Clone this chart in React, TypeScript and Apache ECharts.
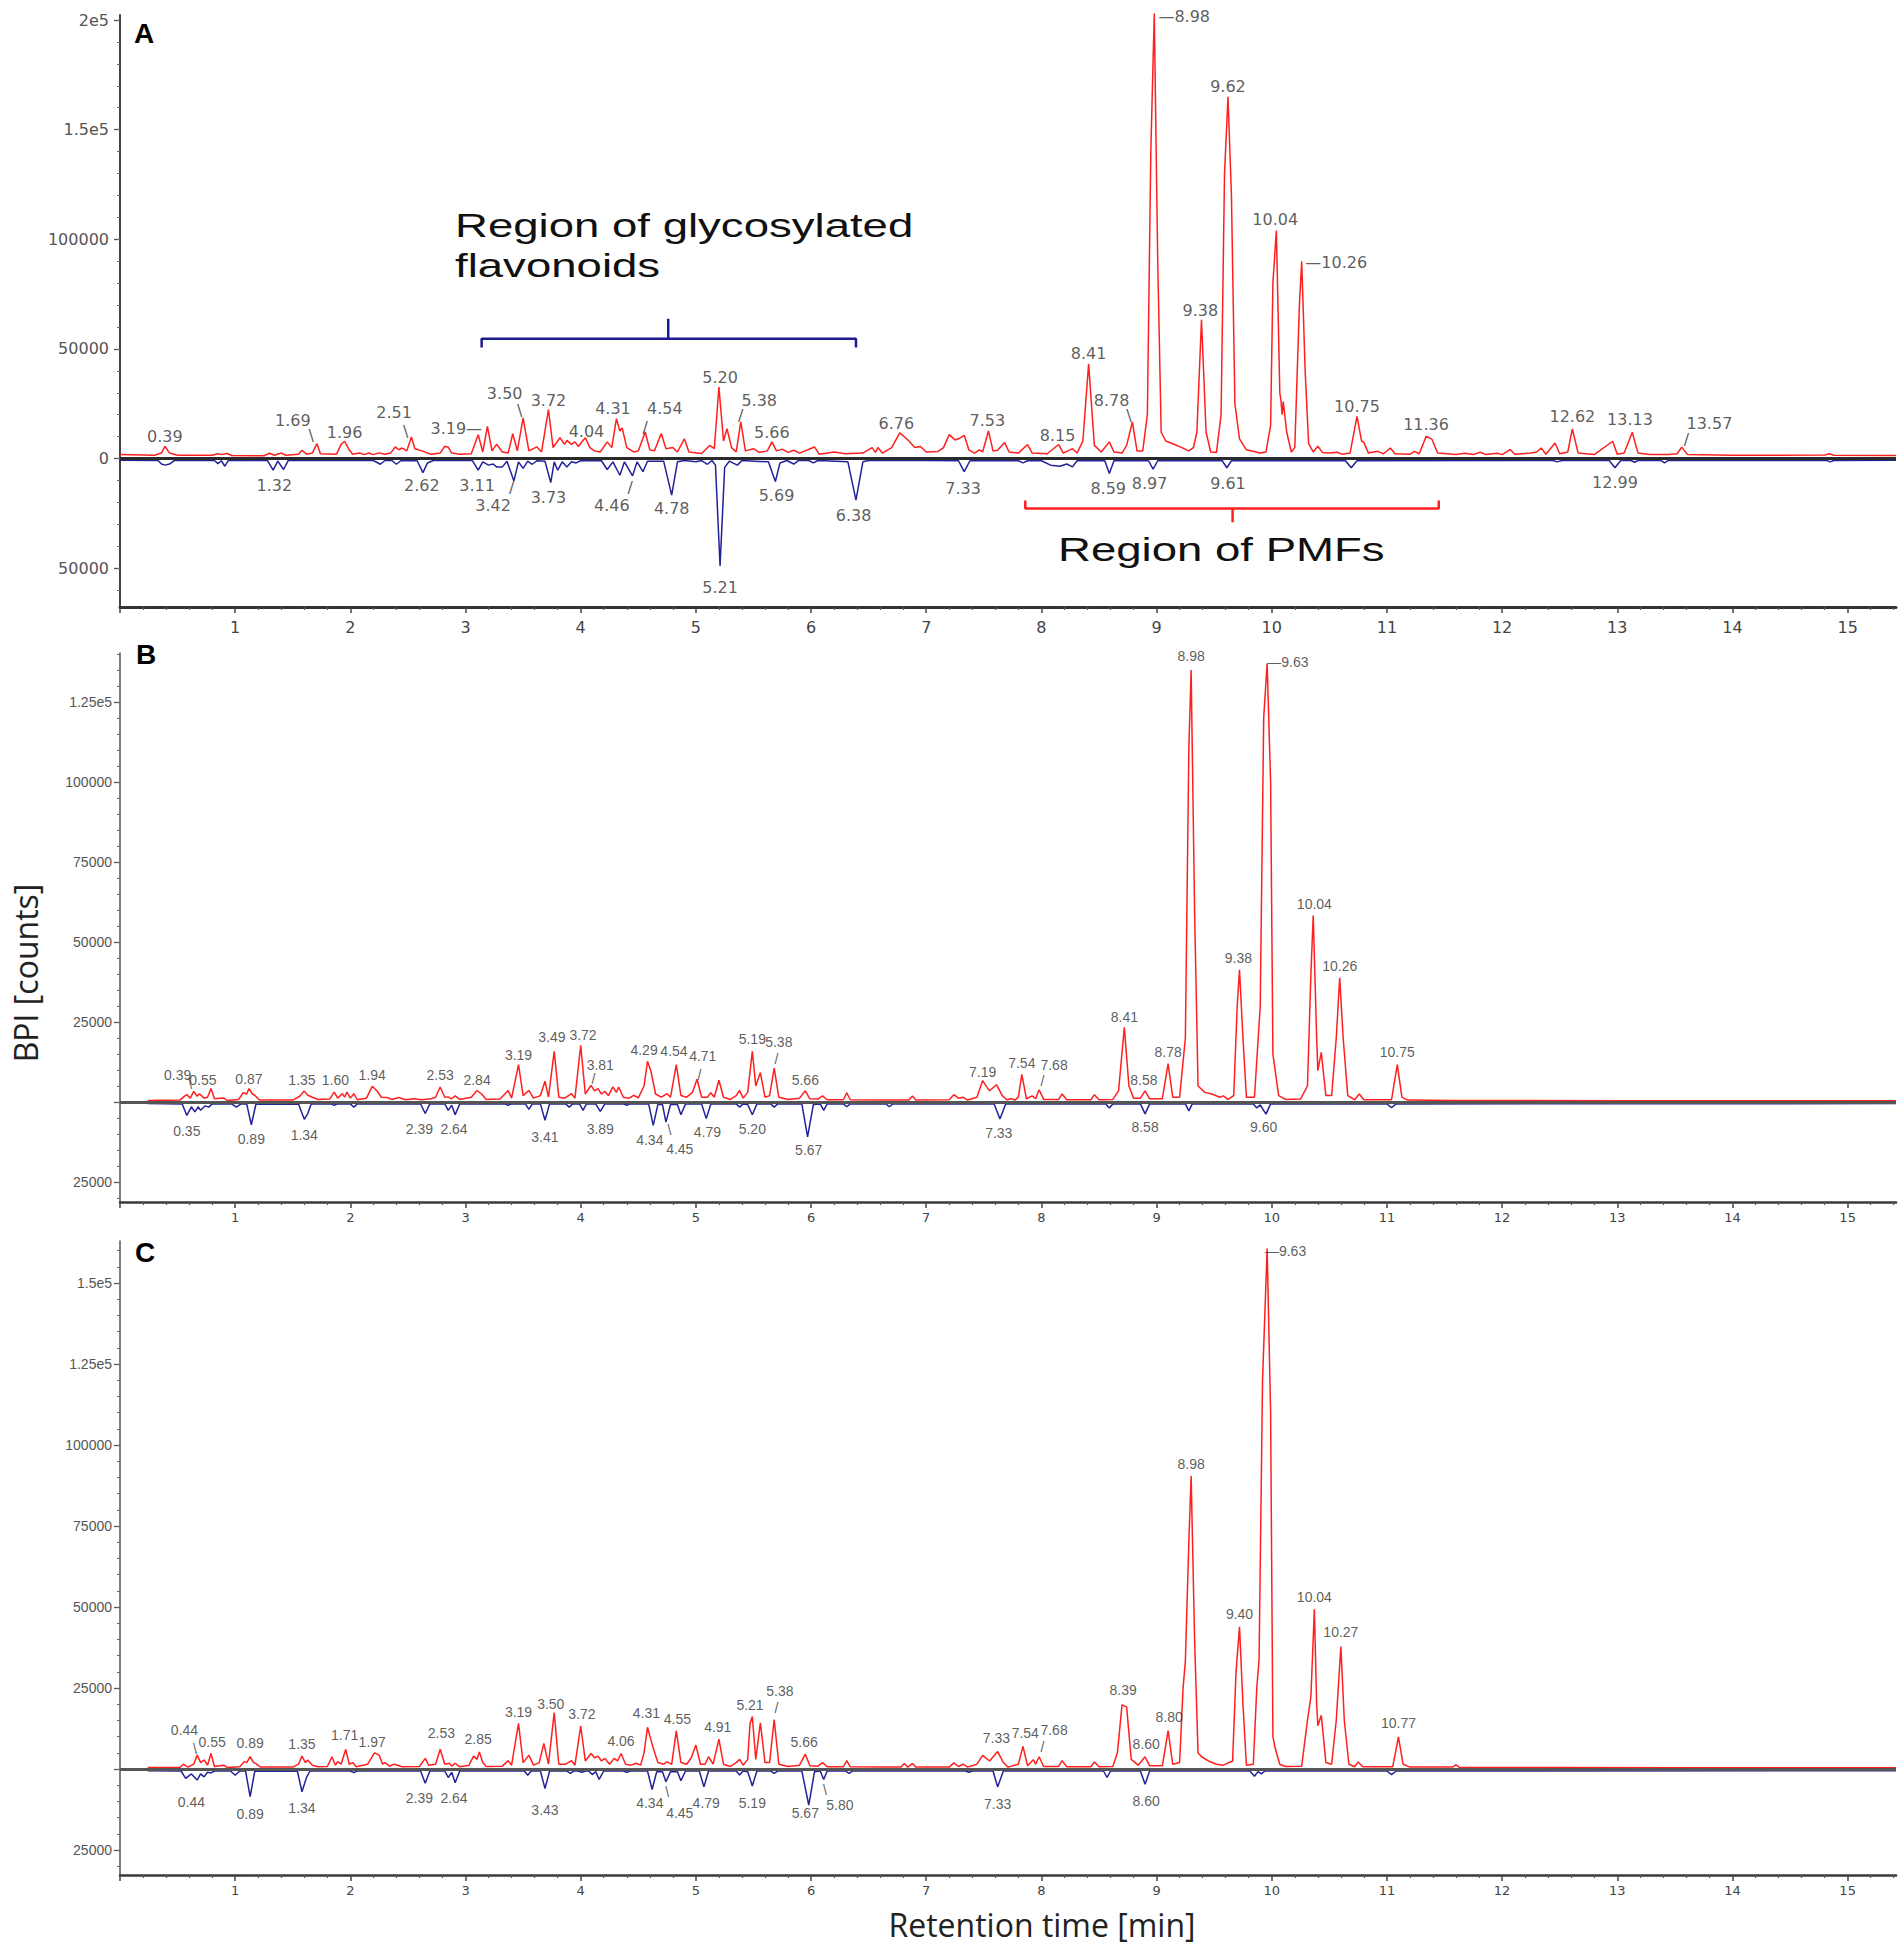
import React, { useEffect, useRef } from "react";
import * as echarts from "echarts";

type P = [number, number];
type L = [string, number, number];

const X_MAX = 15.42;
const X_TICKS = [0, 1, 2, 3, 4, 5, 6, 7, 8, 9, 10, 11, 12, 13, 14, 15];
const X_LABELS = [1, 2, 3, 4, 5, 6, 7, 8, 9, 10, 11, 12, 13, 14, 15];
const A_Y_TICKS = [-50000, 0, 50000, 100000, 150000, 200000];
const B_Y_TICKS = [-25000, 0, 25000, 50000, 75000, 100000, 125000];
const B_Y_LABELS = [-25000, 25000, 50000, 75000, 100000, 125000];
const C_Y_TICKS = [-25000, 0, 25000, 50000, 75000, 100000, 125000, 150000];
const C_Y_LABELS = [-25000, 25000, 50000, 75000, 100000, 125000, 150000];

// ---------- Panel A ----------
const A_RED: P[] = [[0.00,1800],[0.30,1500],[0.36,2500],[0.39,5600],[0.43,2500],[0.50,1500],[0.80,1500],[0.85,2200],[0.88,1800],[0.93,2300],[0.97,1400],[1.25,1300],[1.30,2400],[1.34,1500],[1.40,2500],[1.44,1500],[1.55,2000],[1.58,3800],[1.62,2000],[1.67,2500],[1.71,6800],[1.74,2200],[1.88,2000],[1.92,6500],[1.95,7900],[1.99,4000],[2.02,2000],[2.08,2500],[2.12,1800],[2.16,2500],[2.20,1800],[2.25,2600],[2.30,2000],[2.35,2500],[2.39,5300],[2.42,4000],[2.45,4800],[2.49,3500],[2.53,9800],[2.56,4500],[2.62,3500],[2.70,2000],[2.78,2500],[2.82,5600],[2.85,5200],[2.88,2500],[2.95,2000],[3.05,2200],[3.11,10900],[3.15,3000],[3.19,14700],[3.23,3500],[3.27,6500],[3.32,3000],[3.37,2500],[3.41,11300],[3.45,3500],[3.50,18600],[3.55,3500],[3.62,5300],[3.66,3000],[3.72,22300],[3.76,5000],[3.82,9500],[3.86,6500],[3.88,8300],[3.92,6500],[3.95,7600],[3.98,5500],[4.00,7000],[4.04,9500],[4.08,5000],[4.12,3500],[4.17,3000],[4.23,7600],[4.27,5000],[4.31,18200],[4.34,12500],[4.36,14000],[4.40,5000],[4.46,3000],[4.50,3500],[4.56,12100],[4.60,4000],[4.64,3500],[4.70,11400],[4.74,4500],[4.80,5000],[4.84,3000],[4.90,9000],[4.94,3000],[5.05,2300],[5.12,6000],[5.16,4500],[5.20,32600],[5.24,8000],[5.27,13600],[5.31,5000],[5.35,3000],[5.39,16700],[5.43,3500],[5.50,4500],[5.55,2800],[5.62,3500],[5.66,7600],[5.70,3500],[5.75,4300],[5.80,2800],[5.85,3800],[5.90,2500],[6.03,5300],[6.07,2000],[6.20,3000],[6.30,2200],[6.45,2500],[6.53,5000],[6.56,2800],[6.58,5000],[6.62,2500],[6.70,5000],[6.77,11700],[6.82,9500],[6.85,8000],[6.90,5000],[6.95,5500],[7.00,3000],[7.10,3200],[7.15,5000],[7.20,10900],[7.25,8500],[7.28,9000],[7.33,10600],[7.37,4000],[7.42,2500],[7.46,4000],[7.49,3000],[7.54,12600],[7.58,3500],[7.62,3800],[7.68,7300],[7.72,3000],[7.80,2500],[7.88,6400],[7.92,2500],[8.05,2200],[8.15,6400],[8.19,2500],[8.23,3500],[8.27,4500],[8.31,2500],[8.36,8000],[8.41,43200],[8.46,6000],[8.52,3000],[8.59,7600],[8.63,3000],[8.70,2500],[8.74,6000],[8.79,16700],[8.83,3500],[8.88,3500],[8.92,20000],[8.95,140000],[8.98,203000],[9.01,90000],[9.04,12000],[9.08,8000],[9.15,6500],[9.22,5000],[9.28,3500],[9.32,5000],[9.35,12000],[9.39,63300],[9.43,12000],[9.47,3000],[9.52,2800],[9.56,20000],[9.59,130000],[9.62,165000],[9.65,120000],[9.68,25000],[9.72,9000],[9.78,4000],[9.90,2500],[9.95,3000],[9.99,15000],[10.01,80000],[10.04,104000],[10.07,30000],[10.08,26500],[10.09,20000],[10.10,26000],[10.13,12000],[10.17,3000],[10.20,5000],[10.24,70000],[10.26,90000],[10.29,40000],[10.32,6800],[10.36,3000],[10.40,5600],[10.44,2800],[10.50,2500],[10.57,2900],[10.61,2000],[10.68,2500],[10.74,19200],[10.78,8000],[10.80,7400],[10.84,2500],[10.92,3300],[10.97,2200],[11.03,4800],[11.07,2200],[11.20,2000],[11.24,3300],[11.28,2200],[11.31,6000],[11.34,10200],[11.39,8900],[11.44,2500],[11.60,1800],[11.68,2400],[11.75,1800],[11.81,2900],[11.86,1800],[11.96,2400],[12.00,1800],[12.07,4100],[12.11,2000],[12.25,2500],[12.30,3000],[12.34,4800],[12.38,2000],[12.46,7100],[12.50,2200],[12.57,3000],[12.61,13500],[12.66,2500],[12.80,1800],[12.96,7900],[13.00,2000],[13.06,2500],[13.13,12000],[13.18,2500],[13.28,1900],[13.35,1900],[13.45,1800],[13.52,2200],[13.56,5200],[13.61,1800],[14.00,1500],[14.40,1500],[14.80,1600],[14.84,2200],[14.88,1500],[15.42,1400]];

const A_BLUE: P[] = [[0.00,-800],[0.33,-900],[0.36,-2500],[0.39,-3000],[0.43,-2500],[0.47,-900],[0.82,-900],[0.85,-2300],[0.88,-1000],[0.91,-3500],[0.94,-900],[1.28,-900],[1.33,-5300],[1.37,-1200],[1.42,-5000],[1.46,-900],[2.20,-900],[2.26,-2600],[2.30,-900],[2.36,-900],[2.40,-2600],[2.44,-900],[2.58,-1000],[2.63,-6400],[2.67,-2000],[2.72,-900],[3.06,-900],[3.11,-5300],[3.15,-1500],[3.20,-3000],[3.24,-2500],[3.27,-3800],[3.32,-3800],[3.36,-1200],[3.42,-10200],[3.46,-1500],[3.50,-4500],[3.54,-1200],[3.58,-2600],[3.62,-1000],[3.69,-1200],[3.74,-11000],[3.77,-1500],[3.80,-5300],[3.84,-1500],[3.88,-3800],[3.92,-1500],[3.96,-2000],[4.00,-1000],[4.18,-1000],[4.23,-5000],[4.28,-1500],[4.34,-7600],[4.38,-1500],[4.45,-7900],[4.49,-1500],[4.54,-6000],[4.58,-1200],[4.72,-1200],[4.79,-16700],[4.84,-1500],[4.90,-900],[5.00,-1500],[5.05,-900],[5.10,-2600],[5.14,-900],[5.17,-3000],[5.21,-49000],[5.25,-4000],[5.29,-1200],[5.36,-3000],[5.40,-900],[5.63,-1500],[5.69,-10500],[5.73,-2000],[5.79,-900],[5.85,-2500],[5.89,-900],[5.98,-900],[6.02,-2000],[6.06,-900],[6.32,-1500],[6.39,-19000],[6.45,-1500],[6.50,-900],[7.00,-900],[7.28,-1000],[7.33,-6000],[7.38,-1000],[7.80,-1000],[7.84,-2000],[7.88,-1000],[8.00,-1000],[8.08,-3000],[8.16,-3500],[8.22,-2500],[8.27,-3800],[8.31,-1000],[8.55,-1000],[8.59,-6800],[8.63,-1000],[8.93,-1000],[8.97,-4800],[9.01,-1000],[9.57,-1000],[9.61,-4200],[9.65,-1000],[10.64,-1000],[10.69,-4200],[10.74,-1000],[12.44,-900],[12.48,-1500],[12.52,-900],[12.93,-900],[12.98,-4200],[13.03,-900],[13.12,-900],[13.15,-1700],[13.18,-900],[13.38,-900],[13.41,-2000],[13.44,-900],[14.82,-900],[14.85,-1500],[14.88,-900],[15.42,-800]];

const A_UP: L[] = [["0.39",0.39,10000],["1.69",1.50,17300],["1.96",1.95,11800],["2.51",2.38,20800],["3.19—",2.92,13700],["3.50",3.34,29600],["3.72",3.72,26400],["4.04",4.05,12300],["4.31",4.28,22800],["4.54",4.73,22800],["5.20",5.21,36900],["5.38",5.55,26400],["5.66",5.66,11800],["6.76",6.74,15900],["7.53",7.53,17300],["8.15",8.14,10500],["8.41",8.41,47800],["8.78",8.61,26400],["—8.98",9.24,201800],["9.62",9.62,169900],["9.38",9.38,67400],["10.04",10.03,108900],["—10.26",10.56,89300],["10.75",10.74,23800],["11.36",11.34,15500],["12.62",12.61,19200],["13.13",13.11,17700],["13.57",13.80,16200]];
const A_DOWN: L[] = [["1.32",1.34,-12300],["2.62",2.62,-12300],["3.11",3.10,-12300],["3.42",3.24,-21400],["3.73",3.72,-17800],["4.46",4.27,-21400],["4.78",4.79,-22800],["5.21",5.21,-58800],["5.69",5.70,-16900],["6.38",6.37,-26000],["7.33",7.32,-13700],["8.59",8.58,-13700],["8.97",8.94,-11400],["9.61",9.62,-11400],["12.99",12.98,-11100]];
const A_LEAD: L[] = [["\\",1.66,10500],["\\",2.48,12400],["\\",3.47,21800],["/",4.56,14100],["/",5.39,19600],["\\",8.76,19600],["/",3.40,-13200],["/",4.43,-13200],["/",13.60,8600]];

const GLYCO_BRACKET: P[] = [[3.14,50600],[3.14,54700],[4.76,54700],[4.76,63800],[4.76,54700],[6.39,54700],[6.39,50600]];
const PMF_BRACKET: P[] = [[7.86,-19100],[7.86,-22800],[9.66,-22800],[9.66,-29000],[9.66,-22800],[11.45,-22800],[11.45,-19100]];

// ---------- Panel B ----------
const B_RED: P[] = [[0.24,500],[0.52,600],[0.55,1500],[0.58,2300],[0.61,1200],[0.64,3300],[0.67,1800],[0.69,2600],[0.73,1200],[0.76,1500],[0.79,4200],[0.82,1000],[0.90,1250],[0.93,500],[1.03,800],[1.07,2900],[1.10,2500],[1.12,4200],[1.15,2500],[1.17,2100],[1.21,600],[1.50,600],[1.56,1800],[1.60,3400],[1.63,2100],[1.67,1500],[1.72,800],[1.82,900],[1.86,3100],[1.89,1200],[1.93,2600],[1.95,1500],[1.97,3100],[2.00,1200],[2.03,2600],[2.06,700],[2.14,1200],[2.19,4900],[2.23,3500],[2.27,1500],[2.32,1400],[2.36,800],[2.42,1400],[2.48,700],[2.55,1000],[2.62,700],[2.70,1000],[2.74,1500],[2.78,4700],[2.82,1500],[2.85,1600],[2.88,1000],[2.91,1900],[2.95,800],[3.05,1500],[3.10,3600],[3.14,2500],[3.18,800],[3.30,900],[3.37,3600],[3.40,1200],[3.46,11700],[3.50,2000],[3.55,3600],[3.59,1200],[3.65,2000],[3.69,6500],[3.72,1500],[3.77,15800],[3.81,1500],[3.86,1200],[3.92,2600],[3.95,1200],[4.00,17700],[4.04,2500],[4.09,5200],[4.12,3500],[4.15,4200],[4.18,2500],[4.21,3300],[4.24,2000],[4.28,4700],[4.31,3000],[4.33,4700],[4.37,1500],[4.42,1200],[4.46,2100],[4.50,1300],[4.55,5000],[4.58,12700],[4.61,9600],[4.65,2500],[4.70,1500],[4.75,2600],[4.78,1500],[4.83,11700],[4.87,2000],[4.92,1500],[4.97,3000],[5.01,7100],[5.05,1500],[5.10,1500],[5.13,2900],[5.16,1500],[5.20,6800],[5.24,1500],[5.30,800],[5.35,2000],[5.38,3600],[5.41,1200],[5.45,3000],[5.49,15800],[5.52,5000],[5.56,9200],[5.60,1500],[5.64,2000],[5.68,10600],[5.72,1500],[5.80,800],[5.90,1200],[5.95,3500],[5.99,1000],[6.06,900],[6.10,1900],[6.14,700],[6.28,700],[6.31,2900],[6.34,700],[6.60,600],[6.85,600],[6.88,1900],[6.91,600],[7.20,700],[7.24,2300],[7.28,1200],[7.32,1500],[7.36,600],[7.44,1500],[7.49,6700],[7.53,4500],[7.55,3500],[7.61,5400],[7.66,2000],[7.70,700],[7.74,1000],[7.77,600],[7.80,1500],[7.83,8600],[7.87,1000],[7.92,1900],[7.95,1000],[7.98,3800],[8.02,800],[8.15,800],[8.18,2500],[8.22,700],[8.43,700],[8.46,2300],[8.50,700],[8.62,800],[8.67,3500],[8.72,23300],[8.76,5000],[8.80,1200],[8.86,1200],[8.90,3500],[8.94,1000],[9.05,1000],[9.10,12000],[9.14,1500],[9.20,1500],[9.25,20000],[9.28,110000],[9.30,135000],[9.33,60000],[9.36,5000],[9.42,3000],[9.48,2500],[9.55,1500],[9.58,1900],[9.62,800],[9.67,2000],[9.70,30000],[9.72,41300],[9.75,20000],[9.78,1500],[9.85,1500],[9.90,30000],[9.93,120000],[9.96,137000],[9.99,100000],[10.01,15000],[10.02,12300],[10.06,2000],[10.12,800],[10.25,900],[10.31,5000],[10.34,40000],[10.36,58300],[10.39,20000],[10.40,9800],[10.43,15500],[10.47,2000],[10.52,2000],[10.56,20000],[10.59,38800],[10.62,20000],[10.66,2000],[10.72,700],[10.76,2500],[10.80,700],[11.04,700],[11.09,11700],[11.13,1500],[11.18,600],[11.60,500],[12.00,500],[13.00,400],[14.00,400],[15.42,400]];

const B_BLUE: P[] = [[0.24,-500],[0.54,-600],[0.58,-4200],[0.62,-1500],[0.65,-3100],[0.68,-1500],[0.70,-2600],[0.74,-1200],[0.77,-1600],[0.80,-600],[0.97,-600],[1.01,-1600],[1.05,-600],[1.10,-600],[1.14,-7100],[1.18,-700],[1.55,-600],[1.60,-5400],[1.63,-3600],[1.66,-600],[1.83,-600],[1.86,-1000],[1.89,-600],[2.00,-600],[2.03,-1600],[2.06,-600],[2.61,-600],[2.65,-3600],[2.69,-600],[2.82,-600],[2.85,-2600],[2.88,-1000],[2.91,-4000],[2.95,-600],[3.34,-600],[3.37,-1000],[3.40,-600],[3.52,-600],[3.55,-2300],[3.58,-600],[3.65,-600],[3.69,-5700],[3.73,-600],[3.87,-600],[3.90,-1600],[3.93,-600],[3.99,-600],[4.02,-2600],[4.05,-600],[4.13,-600],[4.17,-2900],[4.21,-600],[4.37,-600],[4.40,-1000],[4.43,-600],[4.59,-600],[4.63,-7300],[4.67,-800],[4.71,-800],[4.74,-6300],[4.78,-800],[4.84,-800],[4.87,-4000],[4.91,-600],[5.05,-600],[5.09,-5200],[5.13,-600],[5.35,-600],[5.38,-1600],[5.41,-600],[5.45,-800],[5.49,-4000],[5.53,-600],[5.65,-600],[5.68,-1600],[5.71,-600],[5.92,-600],[5.97,-10900],[6.02,-800],[6.08,-600],[6.11,-2600],[6.14,-600],[6.28,-600],[6.31,-1500],[6.34,-600],[6.65,-600],[6.68,-1500],[6.71,-600],[7.59,-600],[7.64,-5300],[7.69,-600],[8.56,-600],[8.59,-1900],[8.62,-600],[8.86,-600],[8.90,-3700],[8.94,-600],[9.25,-600],[9.28,-2800],[9.31,-600],[9.84,-600],[9.87,-1900],[9.90,-900],[9.95,-3800],[9.99,-600],[11.00,-600],[11.04,-1800],[11.08,-600],[15.42,-500]];

const B_UP: L[] = [["0.39",0.50,8300],["0.55",0.72,6800],["0.87",1.12,7300],["1.35",1.58,6800],["1.60",1.87,6800],["1.94",2.19,8300],["2.53",2.78,8500],["2.84",3.10,6800],["3.19",3.46,14800],["3.49",3.75,20300],["3.72",4.02,20800],["3.81",4.17,11500],["4.29",4.55,16100],["4.54",4.81,15800],["4.71",5.06,14300],["5.19",5.49,19600],["5.38",5.72,18800],["5.66",5.95,6800],["7.19",7.49,9400],["7.54",7.83,12300],["7.68",8.11,11500],["8.41",8.72,26600],["8.58",8.89,6900],["8.78",9.10,15700],["8.98",9.30,139500],["—9.63",10.14,137500],["9.38",9.71,45100],["10.04",10.37,61800],["10.26",10.59,42600],["10.75",11.09,15500]];
const B_DOWN: L[] = [["0.35",0.58,-9200],["0.89",1.14,-11500],["1.34",1.60,-10400],["2.39",2.60,-8500],["2.64",2.90,-8500],["3.41",3.69,-10900],["3.89",4.17,-8500],["4.34",4.60,-12000],["4.45",4.86,-14600],["4.79",5.10,-9400],["5.20",5.49,-8500],["5.67",5.98,-15100],["7.33",7.63,-9700],["8.58",8.90,-7800],["9.60",9.93,-7800]];
const B_LEAD: L[] = [["\\",0.61,5700],["/",4.11,7300],["/",5.03,8400],["/",5.70,13500],["/",8.01,6700],["\\",4.77,-8900]];

// ---------- Panel C ----------
const C_RED: P[] = [[0.24,500],[0.52,500],[0.55,1500],[0.59,600],[0.64,1500],[0.67,4300],[0.70,2000],[0.73,2800],[0.76,1200],[0.79,4800],[0.82,800],[0.90,1200],[0.93,500],[1.04,700],[1.08,2300],[1.10,2000],[1.13,3800],[1.16,2000],[1.18,1700],[1.22,600],[1.50,600],[1.55,1500],[1.58,4000],[1.61,2000],[1.63,2800],[1.67,1200],[1.72,700],[1.80,800],[1.84,3800],[1.87,1200],[1.89,2300],[1.92,1500],[1.96,6100],[1.99,1500],[2.02,2000],[2.05,700],[2.15,1500],[2.21,5000],[2.25,4300],[2.28,1500],[2.30,2000],[2.34,900],[2.38,1500],[2.45,700],[2.60,800],[2.65,3300],[2.68,1200],[2.74,1500],[2.78,6100],[2.82,1500],[2.86,1800],[2.88,900],[2.91,1800],[2.95,700],[3.03,1200],[3.07,4000],[3.10,3000],[3.12,5300],[3.15,2000],[3.18,800],[3.32,900],[3.37,2600],[3.40,1200],[3.46,14100],[3.50,2000],[3.55,4300],[3.59,1200],[3.64,2000],[3.68,7900],[3.72,1500],[3.77,17400],[3.81,1500],[3.87,1500],[3.92,2600],[3.95,1200],[4.00,13300],[4.04,2500],[4.09,4800],[4.12,3500],[4.15,4000],[4.18,2500],[4.21,3300],[4.25,1500],[4.29,3300],[4.32,2500],[4.35,4800],[4.39,1500],[4.44,1200],[4.48,1800],[4.52,1200],[4.55,5000],[4.58,12900],[4.63,6400],[4.67,2000],[4.72,1500],[4.75,2200],[4.79,1500],[4.83,11800],[4.87,2000],[4.92,1500],[4.96,3500],[5.00,7400],[5.04,1500],[5.08,1500],[5.11,3800],[5.15,1500],[5.20,9200],[5.24,1500],[5.30,800],[5.35,2000],[5.38,3000],[5.41,1200],[5.45,3000],[5.47,14000],[5.49,16200],[5.52,3000],[5.56,14300],[5.60,2000],[5.64,2000],[5.68,15300],[5.72,1500],[5.80,800],[5.90,1200],[5.95,4600],[5.99,1000],[6.06,900],[6.10,2000],[6.14,700],[6.28,700],[6.31,2600],[6.34,700],[6.60,600],[6.78,600],[6.81,1700],[6.84,600],[6.88,1700],[6.91,600],[7.20,600],[7.24,1900],[7.28,800],[7.32,1500],[7.36,600],[7.44,1500],[7.49,4200],[7.55,2500],[7.62,5400],[7.67,2000],[7.71,600],[7.80,1500],[7.84,7000],[7.88,1000],[7.93,2900],[7.95,1500],[7.98,3800],[8.02,800],[8.15,800],[8.18,2600],[8.22,700],[8.43,700],[8.46,2200],[8.50,700],[8.62,800],[8.66,5000],[8.70,19800],[8.74,19200],[8.78,3000],[8.84,1200],[8.90,3800],[8.94,1000],[9.05,1000],[9.10,11900],[9.14,1500],[9.20,2000],[9.23,25000],[9.25,33300],[9.28,70000],[9.30,90500],[9.33,40000],[9.36,5000],[9.39,3800],[9.45,2500],[9.52,1500],[9.58,1200],[9.66,2500],[9.69,30000],[9.72,43900],[9.75,20000],[9.78,1200],[9.84,1500],[9.87,25000],[9.89,33900],[9.92,120000],[9.96,160700],[9.99,110000],[10.01,10000],[10.03,6400],[10.07,1500],[10.12,800],[10.26,900],[10.31,15000],[10.34,22400],[10.37,49300],[10.39,20000],[10.40,13400],[10.43,16600],[10.47,2000],[10.52,1500],[10.56,15000],[10.60,37800],[10.63,15000],[10.67,1500],[10.72,700],[10.75,2200],[10.79,700],[11.05,700],[11.10,9900],[11.14,1500],[11.20,600],[11.57,600],[11.60,1300],[11.63,500],[12.50,500],[13.50,400],[15.42,400]];

const C_BLUE: P[] = [[0.24,-500],[0.53,-600],[0.57,-2900],[0.62,-1500],[0.67,-3400],[0.70,-1500],[0.73,-2400],[0.76,-1000],[0.79,-1200],[0.82,-600],[0.96,-600],[1.00,-1900],[1.04,-600],[1.09,-600],[1.13,-8500],[1.17,-700],[1.54,-600],[1.58,-7000],[1.62,-2500],[1.65,-600],[2.00,-600],[2.03,-1100],[2.06,-600],[2.61,-600],[2.65,-4400],[2.69,-600],[2.82,-600],[2.85,-2600],[2.88,-1000],[2.91,-4200],[2.95,-600],[3.51,-600],[3.54,-1900],[3.57,-600],[3.65,-600],[3.69,-6000],[3.73,-600],[3.88,-600],[3.91,-1300],[3.94,-600],[3.98,-600],[4.01,-1000],[4.04,-600],[4.07,-600],[4.10,-1700],[4.13,-800],[4.16,-3200],[4.20,-600],[4.37,-600],[4.40,-1000],[4.43,-600],[4.58,-600],[4.62,-6300],[4.66,-800],[4.71,-800],[4.74,-3900],[4.78,-800],[4.84,-800],[4.87,-3600],[4.91,-600],[5.03,-600],[5.07,-5500],[5.11,-600],[5.35,-600],[5.38,-1800],[5.41,-600],[5.45,-800],[5.49,-5200],[5.53,-600],[5.65,-600],[5.68,-1300],[5.71,-600],[5.92,-600],[5.98,-11100],[6.03,-800],[6.08,-600],[6.11,-3200],[6.14,-600],[6.30,-600],[6.33,-1300],[6.36,-600],[7.34,-600],[7.37,-1000],[7.40,-600],[7.58,-600],[7.62,-5500],[7.67,-600],[8.54,-600],[8.57,-2600],[8.60,-600],[8.86,-600],[8.90,-4700],[8.94,-600],[9.81,-600],[9.85,-2200],[9.88,-800],[9.91,-1500],[9.94,-600],[11.00,-600],[11.04,-1700],[11.08,-600],[15.42,-500]];

const C_UP: L[] = [["0.44",0.56,12200],["0.55",0.80,8400],["0.89",1.13,7900],["1.35",1.58,7700],["1.71",1.95,10500],["1.97",2.19,8400],["2.53",2.79,11000],["2.85",3.11,9200],["3.19",3.46,17700],["3.50",3.74,20100],["3.72",4.01,17000],["4.06",4.35,8700],["4.31",4.57,17200],["4.55",4.84,15600],["4.91",5.19,13100],["5.21",5.47,19800],["5.38",5.73,24000],["5.66",5.94,8400],["7.33",7.61,9600],["7.54",7.86,11100],["7.68",8.11,12200],["8.39",8.71,24300],["8.60",8.91,7700],["8.80",9.11,16000],["8.98",9.30,94100],["—9.63",10.12,160000],["9.40",9.72,48000],["10.04",10.37,53100],["10.27",10.60,42300],["10.77",11.10,14100]];
const C_DOWN: L[] = [["0.44",0.62,-10100],["0.89",1.13,-13900],["1.34",1.58,-12100],["2.39",2.60,-9000],["2.64",2.90,-9000],["3.43",3.69,-12700],["4.34",4.60,-10600],["4.45",4.86,-13500],["4.79",5.09,-10400],["5.19",5.49,-10400],["5.67",5.95,-13500],["5.80",6.25,-11100],["7.33",7.62,-10900],["8.60",8.91,-9900]];
const C_LEAD: L[] = [["\\",0.65,6100],["/",5.70,18700],["/",8.01,6800],["\\",4.75,-7000],["\\",6.12,-6500]];

// ---------- styling ----------
const RED = "#ff1f1f";
const BLUE = "#22229a";
const LABEL_COLOR = "#333";
const A_FONT = "DejaVu Sans";
const BC_FONT = "'Liberation Sans', Arial, sans-serif";

const PANELS = [
  { top: 15, height: 592, min: -67700, max: 202300, ticks: A_Y_TICKS, labels: A_Y_TICKS, minor: 10000,
    red: A_RED, blue: A_BLUE, up: A_UP, down: A_DOWN, lead: A_LEAD, big: true },
  { top: 653, height: 549, min: -31250, max: 140300, ticks: B_Y_TICKS, labels: B_Y_LABELS, minor: 5000,
    red: B_RED, blue: B_BLUE, up: B_UP, down: B_DOWN, lead: B_LEAD, big: false },
  { top: 1241, height: 634, min: -32700, max: 163000, ticks: C_Y_TICKS, labels: C_Y_LABELS, minor: 5000,
    red: C_RED, blue: C_BLUE, up: C_UP, down: C_DOWN, lead: C_LEAD, big: false },
];

function minorValues(min: number, max: number, step: number): number[] {
  const out: number[] = [];
  for (let k = Math.ceil(min / step); k <= Math.floor(max / step); k++) out.push(k * step);
  return out;
}
function xMinor(): number[] {
  const out: number[] = [];
  for (let k = 1; k * 0.2 <= X_MAX; k++) {
    const v = Math.round(k * 2) / 10;
    if (Math.abs(v - Math.round(v)) > 1e-6) out.push(v);
  }
  return out;
}
function yFmt(v: number): string {
  const a = Math.abs(v);
  if (a >= 125000) return String(a / 100000) + "e5";
  return String(a);
}

function buildOption() {
  const grid: any[] = [];
  const xAxis: any[] = [];
  const yAxis: any[] = [];
  const series: any[] = [];

  PANELS.forEach((p, i) => {
    grid.push({ left: 120, right: 6, top: p.top, height: p.height });
    const axisDark = p.big ? "#333" : "#3a3a3a";
    xAxis.push({
      type: "value", gridIndex: i, min: 0, max: X_MAX, position: "bottom",
      axisLine: { show: true, onZero: false, lineStyle: { color: axisDark, width: p.big ? 3 : 2.5 } },
      axisTick: { show: true, customValues: X_TICKS, length: 6, lineStyle: { color: "#444", width: 1.5 } },
      axisLabel: {
        show: true, customValues: X_LABELS, margin: p.big ? 12 : 9,
        color: "#444", fontFamily: "DejaVu Sans", fontSize: p.big ? 16 : 13,
      },
      splitLine: { show: false },
    });
    xAxis.push({
      type: "value", gridIndex: i, min: 0, max: X_MAX, position: "bottom",
      axisLine: { show: false, onZero: false },
      axisTick: { show: true, customValues: xMinor(), length: 3, lineStyle: { color: "#555", width: 1.2 } },
      axisLabel: { show: false },
      splitLine: { show: false },
    });
    yAxis.push({
      type: "value", gridIndex: i, min: p.min, max: p.max, position: "left",
      axisLine: { show: true, onZero: false, lineStyle: { color: p.big ? "#444" : "#555", width: p.big ? 2 : 1.5 } },
      axisTick: { show: true, customValues: p.ticks, length: 6, lineStyle: { color: "#555", width: 1.3 } },
      axisLabel: {
        show: true, customValues: p.labels, margin: p.big ? 11 : 8, formatter: yFmt,
        color: "#555", fontFamily: p.big ? A_FONT : BC_FONT, fontSize: p.big ? 16 : 14,
      },
      splitLine: { show: false },
    });
    yAxis.push({
      type: "value", gridIndex: i, min: p.min, max: p.max, position: "left",
      axisLine: { show: false, onZero: false },
      axisTick: { show: true, customValues: minorValues(p.min, p.max, p.minor), length: 3, lineStyle: { color: "#666", width: 1 } },
      axisLabel: { show: false },
      splitLine: { show: false },
    });

    const xi = i * 2;
    const yi = i * 2;
    series.push({
      type: "line", xAxisIndex: xi, yAxisIndex: yi, data: p.blue, showSymbol: false, symbol: "none",
      lineStyle: { color: BLUE, width: 1.5 }, z: 2, silent: true, clip: false,
    });
    series.push({
      type: "line", xAxisIndex: xi, yAxisIndex: yi, data: p.red, showSymbol: false, symbol: "none",
      lineStyle: { color: RED, width: 1.5 }, z: 3, silent: true, clip: false,
      markLine: {
        silent: true, symbol: ["none", "none"], label: { show: false },
        lineStyle: { color: p.big ? "#2a2a2a" : "#555", width: 3, type: "solid" },
        data: [{ yAxis: 0 }],
      },
    });
    const labelFont = p.big
      ? { fontFamily: A_FONT, fontSize: 16 }
      : { fontFamily: BC_FONT, fontSize: 14 };
    const mk = (arr: L[]) => arr.map((d) => ({ name: d[0], value: [d[1], d[2]] }));
    series.push({
      type: "scatter", xAxisIndex: xi, yAxisIndex: yi, data: mk([...p.up, ...p.down, ...p.lead]),
      symbolSize: 1, itemStyle: { color: "rgba(0,0,0,0)" }, silent: true, clip: false, z: 6,
      label: { show: true, position: "inside", formatter: "{b}", color: LABEL_COLOR, ...labelFont },
    });
  });

  series.push({
    type: "line", xAxisIndex: 0, yAxisIndex: 0, data: GLYCO_BRACKET, showSymbol: false, symbol: "none",
    lineStyle: { color: "#1c1c8f", width: 2.5 }, z: 5, silent: true, clip: false,
  });
  series.push({
    type: "line", xAxisIndex: 0, yAxisIndex: 0, data: PMF_BRACKET, showSymbol: false, symbol: "none",
    lineStyle: { color: "#ff1f1f", width: 2.5 }, z: 5, silent: true, clip: false,
  });

  const letter = (t: string, x: number, y: number) => ({
    type: "text", x, y, silent: true,
    style: { text: t, x: 0, y: 0, fontSize: 28, fontWeight: "bold", fontFamily: "Liberation Sans", fill: "#000", align: "left", verticalAlign: "middle" },
  });
  const note = (t: string, x: number, y: number) => ({
    type: "text", x, y, scaleX: 1.34, silent: true,
    style: { text: t, x: 0, y: 0, fontSize: 34, fontFamily: "Liberation Sans", fill: "#111", align: "left", verticalAlign: "middle" },
  });

  const graphic = [
    letter("A", 134, 33),
    letter("B", 136, 654),
    letter("C", 135, 1252),
    note("Region of glycosylated", 455, 226),
    note("flavonoids", 455, 266),
    note("Region of PMFs", 1058, 550),
    {
      type: "text", x: 1042, y: 1924, silent: true,
      style: { text: "Retention time [min]", x: 0, y: 0, fontSize: 32, fontFamily: "Open Sans", fill: "#222", align: "center", verticalAlign: "middle" },
    },
    {
      type: "text", x: 25, y: 973, rotation: Math.PI / 2, silent: true,
      style: { text: "BPI [counts]", x: 0, y: 0, fontSize: 32, fontFamily: "Open Sans", fill: "#222", align: "center", verticalAlign: "middle" },
    },
  ];

  return { animation: false, backgroundColor: "#ffffff", grid, xAxis, yAxis, series, graphic };
}

export default function App() {
  const ref = useRef<HTMLDivElement>(null);
  useEffect(() => {
    if (!ref.current) return;
    const chart = echarts.init(ref.current, null, { renderer: "svg" });
    chart.setOption(buildOption() as any);
    return () => chart.dispose();
  }, []);
  return (
    <div
      ref={ref}
      style={{ position: "absolute", left: 0, top: 0, width: 1902, height: 1948, background: "#fff" }}
    />
  );
}
